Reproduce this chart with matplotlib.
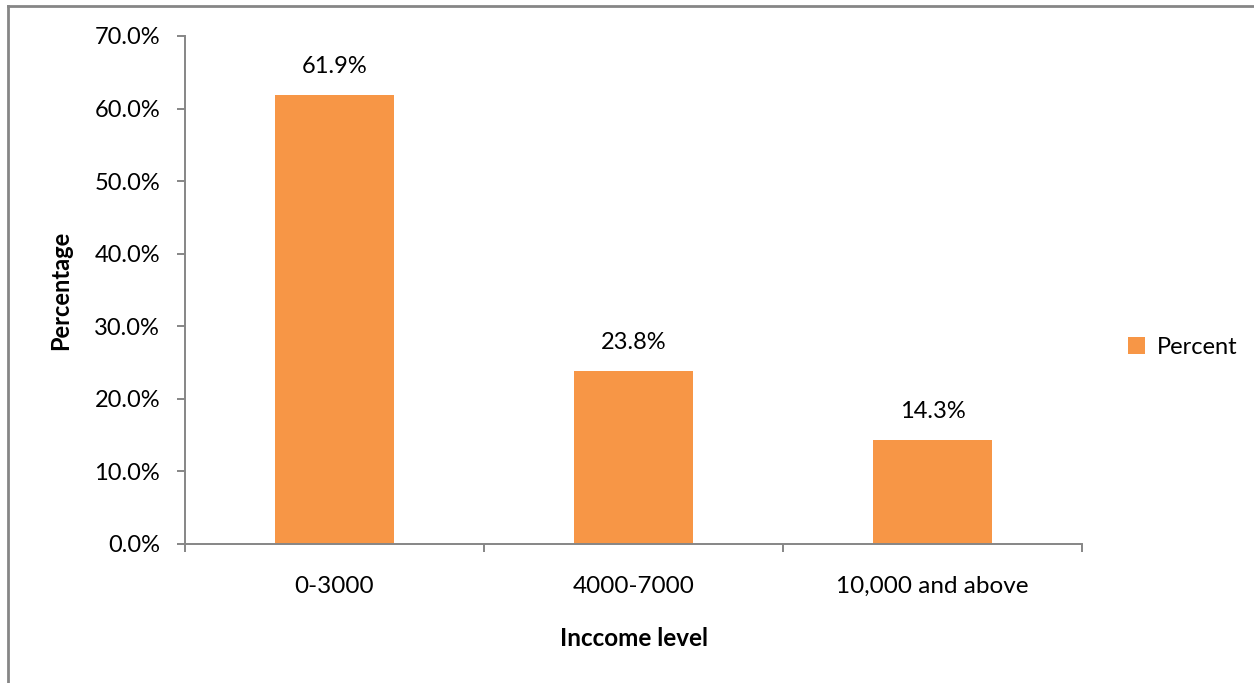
import matplotlib
matplotlib.use('Agg')
import matplotlib.pyplot as plt
from matplotlib.lines import Line2D
from matplotlib.patches import Patch
from matplotlib.ticker import FuncFormatter, FixedLocator

categories = ['0-3000', '4000-7000', '10,000 and above']
percent = [61.9, 23.8, 14.3]
series_name = 'Percent'

BAR_COLOR = '#F79646'
LINE_COLOR = '#868686'

plt.rcParams['font.family'] = ['Lato', 'DejaVu Sans']

W, H = 1254, 683
fig = plt.figure(figsize=(W / 100, H / 100), dpi=100)
ax = fig.add_axes([185 / W, 1 - 544 / H, (1082 - 185) / W, (544 - 36) / H])

xpos = list(range(len(categories)))
bars = ax.bar(xpos, percent, width=0.4, color=BAR_COLOR, zorder=2)
for b, v in zip(bars, percent):
    ax.text(b.get_x() + b.get_width() / 2, v + 2.5, '%.1f%%' % v,
            ha='center', va='bottom', fontsize=17)

ax.set_xlim(-0.5, len(categories) - 0.5)
ax.set_ylim(0, 70)
ax.set_yticks(range(0, 71, 10))
ax.yaxis.set_major_formatter(FuncFormatter(lambda v, p: '%.1f%%' % v))
ax.set_xticks(xpos)
ax.set_xticklabels(categories)
ax.xaxis.set_minor_locator(FixedLocator([i - 0.5 for i in range(len(categories) + 1)]))

ax.tick_params(axis='y', which='major', length=6, width=1.4, color=LINE_COLOR,
               labelsize=17, pad=12)
ax.tick_params(axis='x', which='major', length=0, labelsize=17.5, pad=23)
ax.tick_params(axis='x', which='minor', length=6, width=1.4, color=LINE_COLOR)

for side in ['top', 'right']:
    ax.spines[side].set_visible(False)
for side in ['left', 'bottom']:
    ax.spines[side].set_color(LINE_COLOR)
    ax.spines[side].set_linewidth(1.4)

ax.set_ylabel('Percentage', fontsize=17, fontweight='bold', labelpad=16)
ax.set_xlabel('Inccome level', fontsize=17.5, fontweight='bold', labelpad=22)

handle = Patch(facecolor=BAR_COLOR, edgecolor='none')
fig.legend([handle], [series_name], loc='center left',
           bbox_to_anchor=(1107 / W, 1 - 347 / H), frameon=False,
           fontsize=17, handlelength=0.7, handleheight=0.7, handletextpad=0.5)

# outer chart frame (top and left edges)
fig.add_artist(Line2D([8 / W, 1], [1 - 6 / H, 1 - 6 / H], color=LINE_COLOR,
                      linewidth=2, transform=fig.transFigure))
fig.add_artist(Line2D([8 / W, 8 / W], [0, 1 - 6 / H], color=LINE_COLOR,
                      linewidth=2, transform=fig.transFigure))

fig.savefig('out.png', dpi=100)
